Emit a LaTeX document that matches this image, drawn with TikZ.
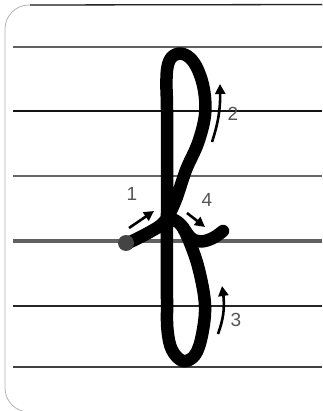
\documentclass[tikz,border=0pt]{standalone}
\usepackage{fontspec}
\setmainfont{Liberation Sans}
\usetikzlibrary{arrows.meta,bending}
\definecolor{lblgray}{HTML}{555555}
\definecolor{dotgray}{HTML}{444444}
\tikzset{
  guide/.style={line width=#1},
  letter/.style={line width=12.5pt, line cap=round, line join=round, black},
  dirarrow/.style={line width=2.6pt, -{Triangle[length=10pt,width=10pt]}, black},
  numlabel/.style={text=lblgray, font=\fontsize{19}{19}\selectfont, inner sep=0pt},
}
\begin{document}
\begin{tikzpicture}[x=1pt,y=-1pt]
\useasboundingbox (0,0) rectangle (322,411);
% frame
\draw[gray!60, line width=0.8pt, rounded corners=24pt] (340,5) -- (5,5) -- (5,412) -- (340,412);
\draw[black!85, line width=1.3pt] (30,5) -- (322,4.5);
% guide lines
\draw[guide=2.2pt, color=black!62] (13,47) -- (322,47);
\draw[guide=1.5pt, color=black!92] (13,111) -- (322,111);
\draw[guide=2.2pt, color=black!60] (13,176) -- (322,176);
\draw[guide=3.5pt, color=black!62] (13,241) -- (322,241);
\draw[guide=1.6pt, color=black!85] (13,306) -- (322,306);
\draw[guide=2.4pt, color=black!75] (13,367) -- (322,367);
% letter f
\draw[letter] plot[smooth, tension=0.6] coordinates {
  (128,243) (148,233) (164,222) (175,202) (186,170) (198,143) (205,115)
  (204,90) (198,70) (190,58) (180,53.5) (171,58) (167,70) (166.5,90) (167,110) (167,200)
  (167,300) (167.5,330) (172,350) (183,361) (195,355) (202,335) (205,305)
  (199,270) (190,243) (181,225) (172,219)};
\draw[letter] plot[smooth, tension=0.6] coordinates {
  (183,227) (191,238) (201,241.5) (213,238) (223,231)};
% start dot
\fill[dotgray] (126,243) circle (8);
% arrows
\coordinate (a1s) at (129,228); \coordinate (a1e) at (154,211);
\coordinate (a2s) at (212,142); \coordinate (a2e) at (220,84);
\coordinate (a3s) at (218,334); \coordinate (a3e) at (222,286);
\coordinate (a4s) at (187,213); \coordinate (a4e) at (205,227);
\draw[dirarrow] (a1s) -- (a1e);
\draw[dirarrow] (a2s) to[bend right=10] (a2e);
\draw[dirarrow] (a3s) to[bend right=15] (a3e);
\draw[dirarrow] (a4s) -- (a4e);
% labels
\node[numlabel] (l1) at (132,194) {1};
\node[numlabel] (l2) at (233,114) {2};
\node[numlabel] (l3) at (236,320) {3};
\node[numlabel] (l4) at (207,200) {4};
\end{tikzpicture}
\end{document}
